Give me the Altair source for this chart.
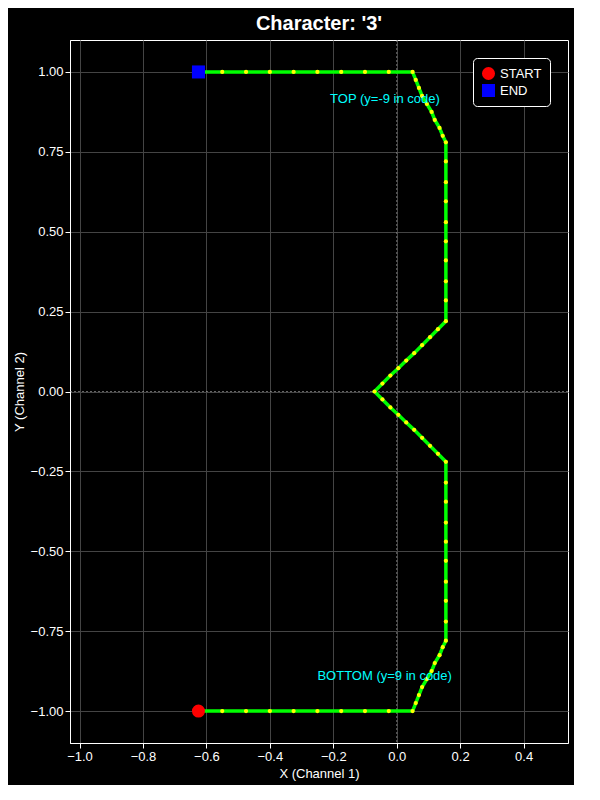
import altair as alt
import pandas as pd

# path of the character, bottom to top
xs = [-0.625, -0.55, -0.475, -0.4, -0.325, -0.25, -0.175, -0.1, -0.025, 0.05,
      0.06, 0.07, 0.08, 0.095, 0.11, 0.12, 0.135, 0.145, 0.155,
      0.155, 0.155, 0.155, 0.155, 0.155, 0.155, 0.155, 0.155, 0.155,
      0.13, 0.105, 0.08, 0.055, 0.03, 0.005, -0.02, -0.045, -0.07,
      -0.045, -0.02, 0.005, 0.03, 0.055, 0.08, 0.105, 0.13, 0.155,
      0.155, 0.155, 0.155, 0.155, 0.155, 0.155, 0.155, 0.155, 0.155,
      0.145, 0.135, 0.12, 0.11, 0.095, 0.08, 0.07, 0.06, 0.05,
      -0.025, -0.1, -0.175, -0.25, -0.325, -0.4, -0.475, -0.55, -0.625]
ys = [-1.0, -1.0, -1.0, -1.0, -1.0, -1.0, -1.0, -1.0, -1.0, -1.0,
      -0.975, -0.95, -0.925, -0.9, -0.875, -0.85, -0.825, -0.8, -0.78,
      -0.72, -0.655, -0.595, -0.53, -0.47, -0.41, -0.345, -0.285, -0.22,
      -0.195, -0.17, -0.145, -0.12, -0.097, -0.073, -0.05, -0.025, 0.0,
      0.025, 0.05, 0.073, 0.097, 0.12, 0.145, 0.17, 0.195, 0.22,
      0.285, 0.345, 0.41, 0.47, 0.53, 0.595, 0.655, 0.72, 0.78,
      0.8, 0.825, 0.85, 0.875, 0.9, 0.925, 0.95, 0.975, 1.0,
      1.0, 1.0, 1.0, 1.0, 1.0, 1.0, 1.0, 1.0, 1.0]

path = pd.DataFrame({"x": xs, "y": ys, "i": range(len(xs))})
ends = pd.DataFrame({"x": [-0.625, -0.625], "y": [-1.0, 1.0], "k": ["START", "END"]})
notes = pd.DataFrame({"x": [-0.21, -0.25], "y": [0.915, -0.89],
                      "t": ["TOP (y=-9 in code)", "BOTTOM (y=9 in code)"]})
zeros = pd.DataFrame({"x": [0.0], "y": [0.0]})

xsc = alt.Scale(domain=[-1.03, 0.54], nice=False, zero=False)
ysc = alt.Scale(domain=[-1.1, 1.1], nice=False, zero=False)
X = alt.X("x:Q", scale=xsc, title="X (Channel 1)",
          axis=alt.Axis(values=[-1.0, -0.8, -0.6, -0.4, -0.2, 0.0, 0.2, 0.4], format=".1f",
                        labelColor="white", titleColor="white", gridColor="#444444", tickColor="white",
                        domainColor="white", labelFontSize=13, titleFontSize=13, titleFontWeight="normal"))
Y = alt.Y("y:Q", scale=ysc, title="Y (Channel 2)",
          axis=alt.Axis(values=[-1.0, -0.75, -0.5, -0.25, 0.0, 0.25, 0.5, 0.75, 1.0], format=".2f",
                        labelColor="white", titleColor="white", gridColor="#444444", tickColor="white",
                        domainColor="white", labelFontSize=13, titleFontSize=13, titleFontWeight="normal"))

vline = alt.Chart(zeros).mark_rule(color="#aaaaaa", strokeDash=[2, 2], strokeWidth=0.6).encode(x=X)
hline = alt.Chart(zeros).mark_rule(color="#aaaaaa", strokeDash=[2, 2], strokeWidth=0.6).encode(y=Y)

base = alt.Chart(path)
line = base.mark_line(color="#00ff00", strokeWidth=3.5).encode(x=X, y=Y, order="i:Q")
pts = base.mark_circle(color="#ffff00", size=18, opacity=1).encode(x=X, y=Y)

marks = alt.Chart(ends).mark_point(filled=True, size=170, opacity=1).encode(
    x=X, y=Y,
    color=alt.Color("k:N", scale=alt.Scale(domain=["START", "END"], range=["red", "blue"]),
                    legend=alt.Legend(title=None, orient="top-right", fillColor="black",
                                      strokeColor="white", padding=8, cornerRadius=4,
                                      labelColor="white", labelFontSize=13, symbolSize=170)),
    shape=alt.Shape("k:N", scale=alt.Scale(domain=["START", "END"], range=["circle", "square"]), title=None),
)
text = alt.Chart(notes).mark_text(color="cyan", fontSize=13, align="left").encode(x=X, y=Y, text="t:N")

chart = alt.layer(vline, hline, line, pts, marks, text).properties(
    width=498, height=703, background="black",
    title=alt.Title("Character: '3'", color="white", fontSize=20, fontWeight="bold", offset=6),
).configure_view(stroke="white", fill="black")

chart.save("out.html", embed_options={"renderer": "svg", "actions": False})
